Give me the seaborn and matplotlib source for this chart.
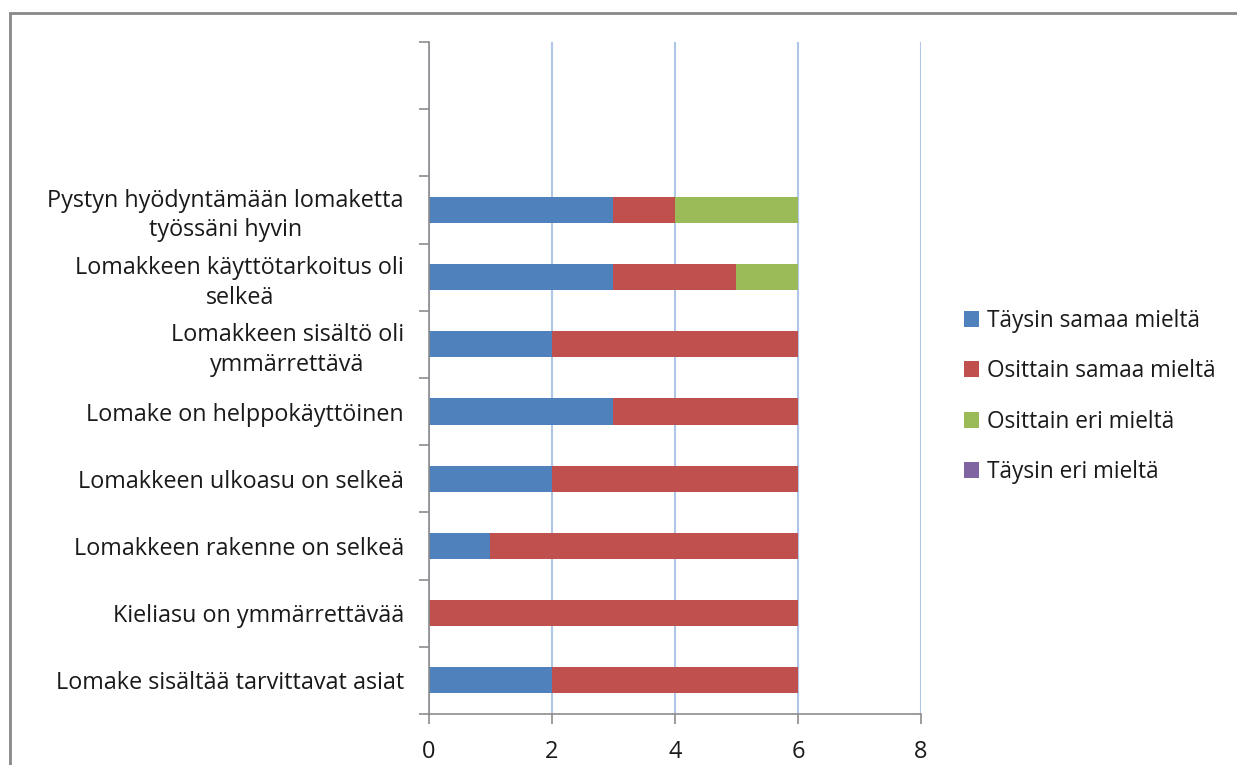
import pandas as pd
import matplotlib

matplotlib.use("Agg")
import matplotlib.pyplot as plt
from matplotlib.patches import Patch, Rectangle
import seaborn as sns

# Kysymykset ylhäältä alas (kaksi tyhjää paikkaa ylimpänä)
kysymykset = [
    "",
    " ",
    "Pystyn hyödyntämään lomaketta\ntyössäni hyvin",
    "Lomakkeen käyttötarkoitus oli\nselkeä",
    "Lomakkeen sisältö oli\nymmärrettävä",
    "Lomake on helppokäyttöinen",
    "Lomakkeen ulkoasu on selkeä",
    "Lomakkeen rakenne on selkeä",
    "Kieliasu on ymmärrettävää",
    "Lomake sisältää tarvittavat asiat",
]
tays_samaa = [0, 0, 3, 3, 2, 3, 2, 1, 0, 2]
osittain_samaa = [0, 0, 1, 2, 4, 3, 4, 5, 6, 4]
osittain_eri = [0, 0, 2, 1, 0, 0, 0, 0, 0, 0]
tays_eri = [0, 0, 0, 0, 0, 0, 0, 0, 0, 0]

sarjat = ["Täysin samaa mieltä", "Osittain samaa mieltä", "Osittain eri mieltä", "Täysin eri mieltä"]
varit = ["#4F81BD", "#C0504D", "#9BBB59", "#8064A2"]

df = pd.DataFrame(
    {
        "kysymys": kysymykset,
        sarjat[0]: tays_samaa,
        sarjat[1]: osittain_samaa,
        sarjat[2]: osittain_eri,
        sarjat[3]: tays_eri,
    }
)
# cumulative sums so the stacked segments can be drawn back to front
kumul = df[sarjat].cumsum(axis=1)
kumul["kysymys"] = df["kysymys"]

sns.set_style("white")
plt.rcParams["font.family"] = ["Open Sans", "DejaVu Sans"]

fig = plt.figure(figsize=(12.37, 7.65), dpi=100)
ax = fig.add_axes([0.3468, 0.0667, 0.3977, 0.8784])

for sarja, vari in reversed(list(zip(sarjat, varit))):
    sns.barplot(
        data=kumul,
        x=sarja,
        y="kysymys",
        order=kysymykset,
        color=vari,
        saturation=1,
        width=0.39,
        errorbar=None,
        linewidth=0,
        ax=ax,
    )

ax.set_xlim(0, 8)
ax.set_ylim(len(kysymykset) - 0.5, -0.5)
ax.set_xticks([0, 2, 4, 6, 8])
ax.set_xlabel("")
ax.set_ylabel("")

# labels at centres, tick marks at category boundaries
ax.set_yticks(range(len(kysymykset)))
ax.set_yticklabels(kysymykset, fontsize=16.8, color="#1a1a1a", multialignment="center",
                   linespacing=1.3)
ax.tick_params(axis="y", which="major", length=0, pad=18)
ax.set_yticks([i - 0.5 for i in range(len(kysymykset) + 1)], minor=True)
ax.tick_params(axis="y", which="minor", length=7, width=1.2, color="#8c8c8c", direction="out", left=True)
ax.tick_params(axis="x", length=7, width=1.2, color="#8c8c8c", direction="out", bottom=True,
               labelsize=17, labelcolor="#1a1a1a", pad=12)

ax.grid(axis="x", color="#AFC6E9", linewidth=1.5)
ax.grid(axis="y", visible=False)
ax.set_axisbelow(True)
for side in ["top", "right"]:
    ax.spines[side].set_visible(False)
for side in ["left", "bottom"]:
    ax.spines[side].set_color("#8c8c8c")
    ax.spines[side].set_linewidth(1.2)

kahvat = [Patch(facecolor=v, edgecolor="none") for v in varit]
fig.legend(
    kahvat,
    sarjat,
    loc="center left",
    bbox_to_anchor=(0.7625, 0.482),
    frameon=False,
    fontsize=16.3,
    handlelength=0.7,
    handleheight=0.7,
    handletextpad=0.35,
    labelspacing=1.17,
    labelcolor="#1a1a1a",
)

# outer chart border (cut off at right and bottom as in the source)
fig.patches.append(
    Rectangle((10 / 1237, -0.1), 1.2, 1 - 13 / 765 + 0.1, transform=fig.transFigure,
              fill=False, edgecolor="#888888", linewidth=2)
)

fig.savefig("out.png", dpi=100, facecolor="white")
plt.close(fig)
